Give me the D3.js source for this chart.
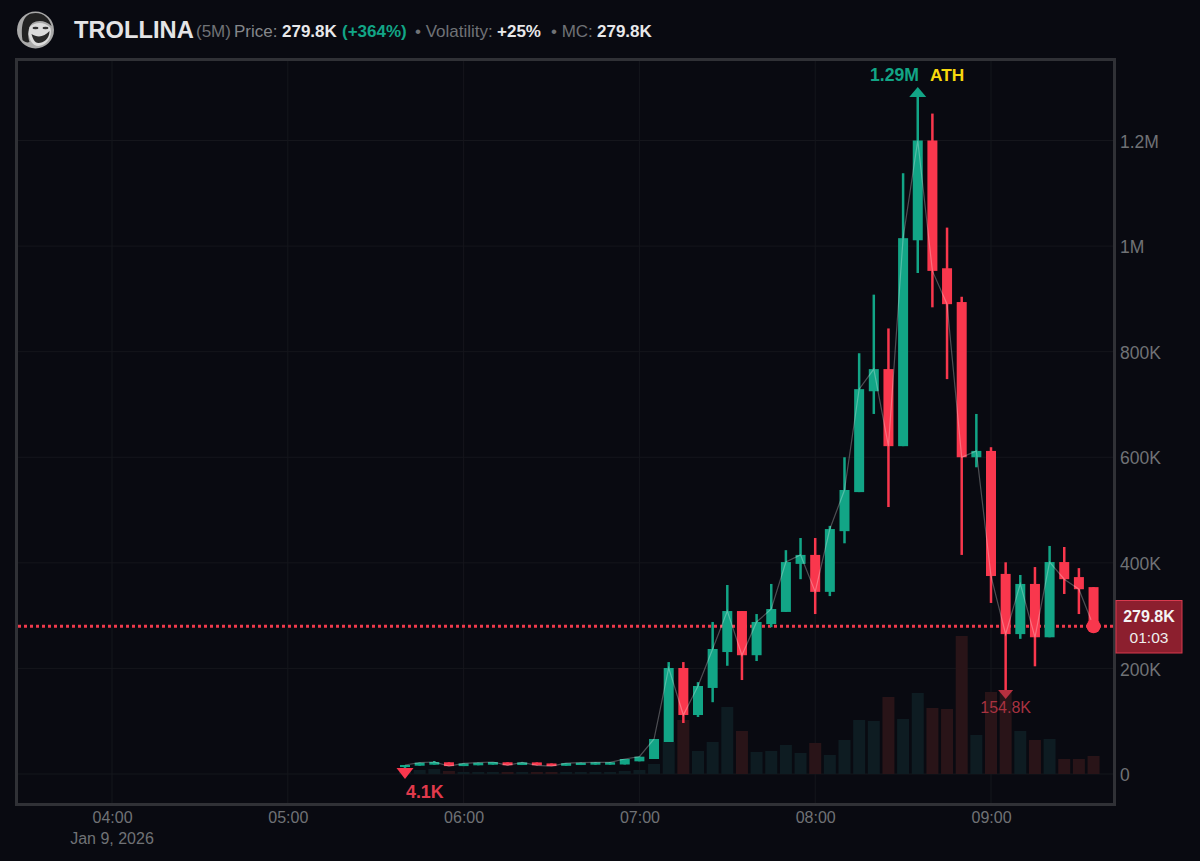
<!DOCTYPE html>
<html>
<head>
<meta charset="utf-8">
<script src="https://cdn.jsdelivr.net/npm/d3@7"></script>
<style>
  html, body { margin: 0; padding: 0; background: #090a11; overflow: hidden; }
  text { font-family: "Liberation Sans", Arial, sans-serif; }
</style>
</head>
<body>
<div id="chart"></div>
<script>
// candle data, values in thousands
var times = ["05:40","05:45","05:50","05:55","06:00","06:05","06:10","06:15","06:20","06:25","06:30","06:35",
  "06:40","06:45","06:50","06:55","07:00","07:05","07:10","07:15","07:20","07:25","07:30","07:35",
  "07:40","07:45","07:50","07:55","08:00","08:05","08:10","08:15","08:20","08:25","08:30","08:35",
  "08:40","08:45","08:50","08:55","09:00","09:05","09:10","09:15","09:20","09:25","09:30","09:35"];
var opens = [14,15.7,17.6,22.2,15,16.5,17.6,22.2,17,22,20,15.5,17,17.6,17.6,18,24,28.4,60.6,200.8,111.7,163,231,308.7,
  225,284,307,398,415,345,460,534,725,767,621,1011,1200,958,894,600,612,379,265,360,259,401.5,373,354];
var closes = [17,21.4,22.7,15,20,21.4,22.7,16.5,22,16.5,15,20.5,21.4,22.2,22.2,28.4,32.8,66.3,200.8,111.7,166.7,236.8,308.7,225,
  288,312.5,401.5,415,345,464,538,729,767,621,1015,1200,953,890,600,612,375,265,360,259,401.5,369,350,279.8];
var highs = [17,21.4,24.6,22.2,20,21.4,22.7,22.2,22,22,20,20.5,21.4,22.2,22.2,28.4,32.8,66.3,212,212,174,288,358,308.7,
  303,360,424,447,447,470,600,797,908,844,1138,1290,1251,1035,904,682,619,401,377,392,432,430,390,354];
var lows = [4.1,15.7,17.6,15,15,16.5,17.6,16.5,17,16.5,15,15.5,17,17.6,17.6,18,24,28.4,60.6,96.6,108,136,205,178,
  214,278,307,369,303,337,437,534,682,505.7,621,949,884,748,415,581,324,154.8,256,204,259,341,303,279.8];
var volumes = [3,6,7.5,4.5,3,3,3,3,3,3,3,3,3,3,3,4.5,6,15,48,81,34.5,48,100.5,64.5,
  33,34.5,43.5,31.5,46.5,28.5,51,81,79.5,115.5,82.5,121.5,99,97.5,207,58.5,123,123,64.5,51,52.5,22.5,22.5,27];

var yTicks = [0,200,400,600,800,1000,1200];
var yLabels = ["0","200K","400K","600K","800K","1M","1.2M"];
var xTicks = ["04:00","05:00","06:00","07:00","08:00","09:00"];

var lastPrice = 279.8;
var GREEN = "#12a586", RED = "#f9374d";

var width = 1200, height = 861;
var svg = d3.select("#chart").append("svg").attr("width", width).attr("height", height)
  .style("display", "block");

var parse = d3.utcParse("%H:%M");
var candles = times.map(function (t, i) {
  return { t: parse(t), o: opens[i], c: closes[i], h: highs[i], l: lows[i], v: volumes[i] };
});

var x = d3.scaleUtc().domain([parse("04:00"), parse("09:00")]).range([112, 991]);
var y = d3.scaleLinear().domain([0, 1200]).range([774, 140.5]);
var yVol = d3.scaleLinear().domain([0, 300]).range([774, 574]);

// frame
svg.append("rect").attr("x", 16.5).attr("y", 59.5).attr("width", 1098).attr("height", 745)
  .attr("fill", "#090a11").attr("stroke", "#303136").attr("stroke-width", 3);

// gridlines
var grid = svg.append("g").attr("stroke", "#15161c").attr("stroke-width", 1);
grid.selectAll(".h").data(yTicks).enter().append("line")
  .attr("x1", 18).attr("x2", 1113).attr("y1", d => y(d)).attr("y2", d => y(d));
grid.selectAll(".v").data(xTicks).enter().append("line")
  .attr("y1", 61).attr("y2", 803).attr("x1", d => x(parse(d))).attr("x2", d => x(parse(d)));

// volume bars
svg.append("g").selectAll("rect").data(candles).enter().append("rect")
  .attr("x", d => x(d.t) - 6).attr("width", 12)
  .attr("y", d => yVol(d.v)).attr("height", d => yVol(0) - yVol(d.v))
  .attr("fill", d => d.c >= d.o ? "#0e1c22" : "#291418");

// price line
var priceY = y(lastPrice);
svg.append("line").attr("x1", 18).attr("x2", 1114).attr("y1", priceY).attr("y2", priceY)
  .attr("stroke", "#ee3a4c").attr("stroke-width", 3).attr("stroke-dasharray", "3 3");

// candles
var candle = svg.append("g").selectAll("g").data(candles).enter().append("g")
  .attr("fill", d => d.c >= d.o ? GREEN : RED);
candle.append("rect")
  .attr("x", d => x(d.t) - 1.25).attr("width", 2.5)
  .attr("y", d => y(d.h)).attr("height", d => y(d.l) - y(d.h));
candle.append("rect")
  .attr("x", d => x(d.t) - 5).attr("width", 10)
  .attr("y", d => y(Math.max(d.o, d.c)))
  .attr("height", d => Math.max(2, Math.abs(y(d.o) - y(d.c))));

// thin line through the closes
var closeLine = d3.line().x(d => x(d.t)).y(d => y(d.c));
svg.append("path").datum(candles).attr("d", closeLine)
  .attr("fill", "none").attr("stroke", "#fff").attr("stroke-opacity", 0.28).attr("stroke-width", 1.2);

// current price dot
svg.append("circle").attr("cx", x(parse("09:35"))).attr("cy", priceY).attr("r", 7).attr("fill", RED);

// axes
var yAxis = d3.axisRight(y).tickValues(yTicks).tickSize(0).tickPadding(0)
  .tickFormat((d, i) => yLabels[i]);
var yG = svg.append("g").attr("transform", "translate(1120,1)").call(yAxis);
yG.select(".domain").remove();
yG.selectAll("text").attr("fill", "#707276").style("font-size", "17.5px").style("font-family", "Liberation Sans");

var xAxis = d3.axisBottom(x).tickValues(xTicks.map(parse)).tickSize(0).tickPadding(0)
  .tickFormat(d3.utcFormat("%H:%M"));
var xG = svg.append("g").attr("transform", "translate(0,812)").call(xAxis);
xG.select(".domain").remove();
xG.selectAll("text").attr("fill", "#707276").style("font-size", "16px").style("font-family", "Liberation Sans");

function label(px, py, txt, size, color, weight, anchor) {
  return svg.append("text").attr("x", px).attr("y", py).text(txt)
    .attr("fill", color).attr("font-size", size).attr("font-weight", weight || "normal")
    .attr("text-anchor", anchor || "start");
}

label(112, 844, "Jan 9, 2026", 16, "#707276", "normal", "middle");

// header
label(74, 38, "TROLLINA", 23.7, "#e4e4e6", "bold");
label(196, 37, "(5M)", 17, "#707276");
label(234, 37, "Price:", 17, "#85878b");
label(282, 37, "279.8K", 17, "#e8e8ea", "bold");
label(342, 37, "(+364%)", 17, GREEN, "bold");
label(415, 37, "• Volatility:", 17, "#707276");
label(497, 37, "+25%", 17, "#e8e8ea", "bold");
label(551, 37, "• MC:", 17, "#707276");
label(597, 37, "279.8K", 17, "#e8e8ea", "bold");

// avatar
var logo = svg.append("g").attr("transform", "translate(35.5,30)");
logo.append("circle").attr("r", 18.5).attr("fill", "#a9a9a9");
logo.append("path").attr("d", "M-13,10C-15,-6 -12,-17 0,-17C9,-17 14,-11 16,-4C10,-10 2,-10 -3,-7C-8,-3 -8,6 -6,12C-8,13 -11,12 -13,10Z").attr("fill", "#222");
logo.append("path").attr("d", "M-6,-3C0,-9 10,-8 15,-2C17,6 12,15 3,16C-3,16 -6,10 -7,4Z").attr("fill", "#dcdcdc");
logo.append("path").attr("d", "M-4,4C2,8 9,7 14,1C14,9 8,13 3,13C-1,13 -3,8 -4,4Z").attr("fill", "#2b2b2b");
logo.append("ellipse").attr("cx", 0).attr("cy", -2).attr("rx", 3).attr("ry", 1.3).attr("fill", "#333");
logo.append("ellipse").attr("cx", 10).attr("cy", -2).attr("rx", 3).attr("ry", 1.3).attr("fill", "#333");

// ATH marker
var athX = x(parse("08:35"));
svg.append("path").attr("d", `M${athX - 8.5},97 L${athX},87 L${athX + 8.5},97 Z`).attr("fill", GREEN);
label(870, 81, "1.29M", 17.6, GREEN, "bold");
label(930, 81, "ATH", 17.3, "#f7d80d", "bold");

// low markers
var firstX = x(parse("05:40"));
svg.append("path").attr("d", `M${firstX - 8.5},768 L${firstX + 8.5},768 L${firstX},779 Z`).attr("fill", RED);
label(406, 798, "4.1K", 17.8, "#e23a4c", "bold");

var lowX = x(parse("09:05"));
svg.append("path").attr("d", `M${lowX - 7.5},690 L${lowX + 7.5},690 L${lowX},699 Z`).attr("fill", "#b8303f");
label(lowX, 713, "154.8K", 16, "#a83240", "normal", "middle");

// price tag
svg.append("rect").attr("x", 1116).attr("y", 600.5).attr("width", 66).attr("height", 52.5)
  .attr("fill", "#8c1f2e").attr("stroke", "#d93a4e").attr("stroke-width", 1);
label(1149, 622, "279.8K", 16, "#f4f4f4", "bold", "middle");
label(1149, 643, "01:03", 15.5, "#eeeeee", "normal", "middle");
</script>
</body>
</html>
